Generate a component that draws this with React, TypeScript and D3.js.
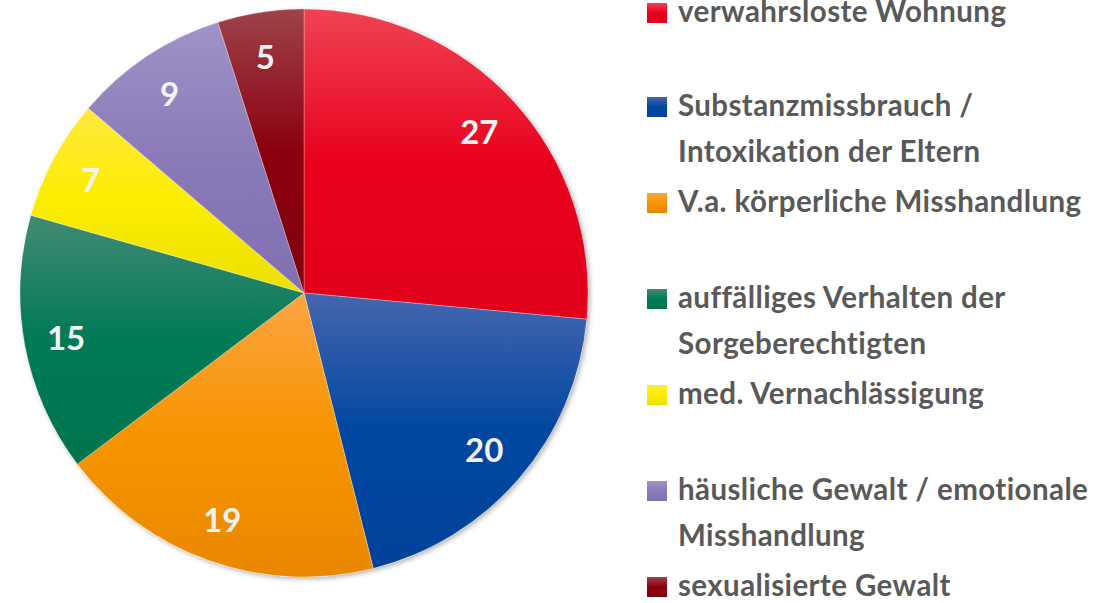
import React from "react";
import * as d3 from "d3";

const categories = [
  ["verwahrsloste Wohnung"],
  ["Substanzmissbrauch /", "Intoxikation der Eltern"],
  ["V.a. körperliche Misshandlung"],
  ["auffälliges Verhalten der", "Sorgeberechtigten"],
  ["med. Vernachlässigung"],
  ["häusliche Gewalt / emotionale", "Misshandlung"],
  ["sexualisierte Gewalt"],
];
const values = [27, 20, 19, 15, 7, 9, 5];
const baseColors = ["#e8001c", "#0047a0", "#f79400", "#007a56", "#fcee00", "#8a7ab8", "#8b0010"];
const topColors = ["#ef4353", "#4666ae", "#fba443", "#428a74", "#ffe83f", "#9f93c6", "#9d4349"];
const bottomColors = ["#e2001a", "#00429a", "#e98800", "#00744f", "#ebe000", "#8070b0", "#82000e"];

const W = 1110;
const H = 603;
const cx = 304;
const cy = 293;
const R = 284;
const labelR = 240;

export default function App() {
  const pie = d3.pie<number>().sort(null).value((d) => d).startAngle(0).endAngle(2 * Math.PI);
  const arcs = pie(values);
  const arc = d3.arc<d3.PieArcDatum<number>>().innerRadius(0).outerRadius(R);
  const labelArc = d3.arc<d3.PieArcDatum<number>>().innerRadius(labelR).outerRadius(labelR);

  const legendX = 647;
  const textX = 678;
  const itemStep = 96;
  const firstBaseline = 22;
  const lineGap = 46;

  return (
    <svg width={W} height={H} style={{ position: "absolute", left: 0, top: 0 }} viewBox={`0 0 ${W} ${H}`}>
      <defs>
        {arcs.map((a, i) => (
          <linearGradient key={i} id={`g${i}`} x1="0" y1="0" x2="0" y2="1">
            <stop offset="0" stopColor={topColors[i]} />
            <stop offset="0.5" stopColor={baseColors[i]} />
            <stop offset="1" stopColor={bottomColors[i]} />
          </linearGradient>
        ))}
        {baseColors.map((c, i) => (
          <linearGradient key={`l${i}`} id={`lg${i}`} x1="0" y1="0" x2="0" y2="1">
            <stop offset="0" stopColor={topColors[i]} />
            <stop offset="0.5" stopColor={baseColors[i]} />
            <stop offset="1" stopColor={bottomColors[i]} />
          </linearGradient>
        ))}
        <filter id="shadow" x="-10%" y="-10%" width="120%" height="120%">
          <feDropShadow dx="2" dy="2" stdDeviation="2.5" floodColor="#000" floodOpacity="0.3" />
        </filter>
      </defs>
      <g transform={`translate(${cx},${cy})`}>
        <circle r={R} fill="#fff" filter="url(#shadow)" />
        {arcs.map((a, i) => (
          <path key={i} d={arc(a) || ""} fill={`url(#g${i})`} stroke="#ffffff" strokeOpacity={0.35} strokeWidth={0.8} />
        ))}
        {arcs.map((a, i) => {
          const [x, y] = labelArc.centroid(a);
          return (
            <text
              key={i}
              x={x - 2}
              y={y}
              textAnchor="middle"
              dominantBaseline="central"
              fill="#f2f2f2"
              fontFamily="Lato, 'Liberation Sans', sans-serif"
              fontWeight={700}
              fontSize={33}
            >
              {values[i]}
            </text>
          );
        })}
      </g>
      <g>
        {categories.map((lines, i) => {
          const base = firstBaseline + i * itemStep - (i > 0 ? 2 : 0);
          return (
            <g key={i}>
              <rect x={legendX} y={base - 19} width={20} height={20} fill={`url(#lg${i})`} />
              {lines.map((ln, j) => (
                <text
                  key={j}
                  x={textX}
                  y={base + j * lineGap}
                  fill="#595959"
                  fontFamily="Lato, 'Open Sans', sans-serif"
                  fontWeight={700}
                  fontSize={29.5}
                  letterSpacing={0.4}
                >
                  {ln}
                </text>
              ))}
            </g>
          );
        })}
      </g>
    </svg>
  );
}
